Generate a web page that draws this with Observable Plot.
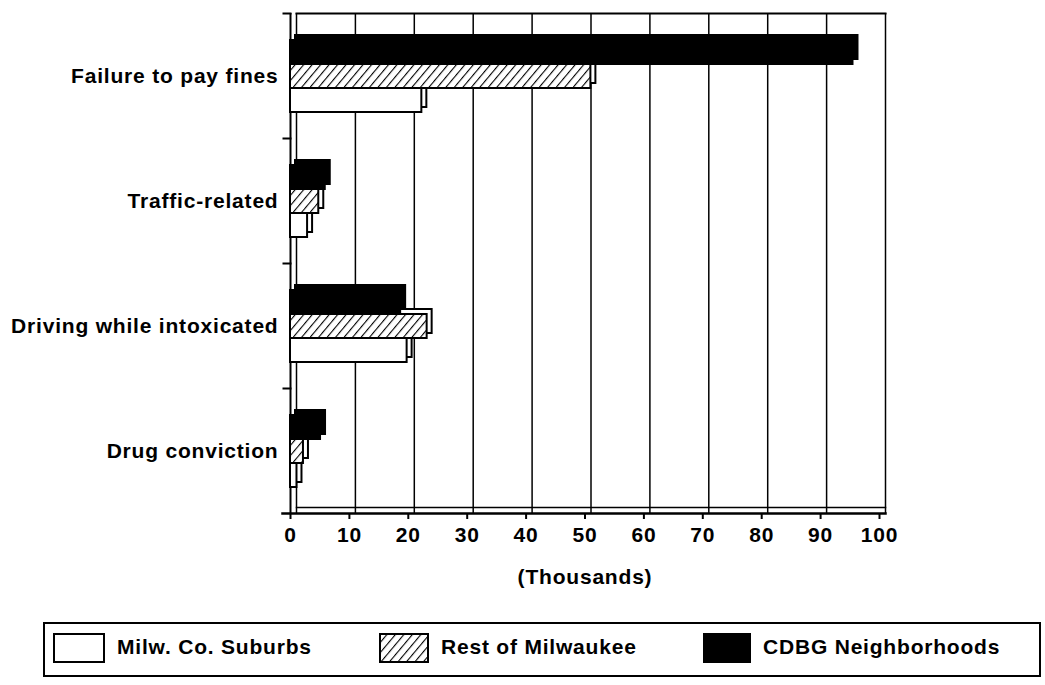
<!DOCTYPE html>
<html>
<head>
<meta charset="utf-8">
<script src="https://cdn.jsdelivr.net/npm/d3@7"></script>
<script src="https://cdn.jsdelivr.net/npm/@observablehq/plot@0.6"></script>
<style>
  html, body { margin: 0; padding: 0; background: white; }
  #chart { position: absolute; left: 0; top: 0; }
  #chart svg text { letter-spacing: 0.8px; font-weight: bold; }
  #legend { position: absolute; left: 43px; top: 622px; width: 994px; height: 51px;
            border: 2px solid black; font-family: 'Liberation Sans', Arial, sans-serif;
            font-size: 21px; font-weight: bold; letter-spacing: 0.8px; color: black; }
  .item { position: absolute; top: 9px; height: 30px; }
  .item svg { position: absolute; left: 0; top: 0; }
  .item span { position: absolute; top: 2px; white-space: nowrap; }
</style>
</head>
<body>
<div id="chart"></div>
<div id="legend"></div>
<script>
// ---- data ----
const categories = ["Failure to pay fines", "Traffic-related", "Driving while intoxicated", "Drug conviction"];
const seriesNames = ["CDBG Neighborhoods", "Rest of Milwaukee", "Milw. Co. Suburbs"];
const cdbgValues = [95.5, 5.9, 18.7, 5.1];
const restValues = [51, 4.8, 23.2, 2.2];
const suburbValues = [22.3, 2.9, 19.8, 1.1];
const xTicks = [0, 10, 20, 30, 40, 50, 60, 70, 80, 90, 100];
const xLabel = "(Thousands)";
const legendOrder = ["Milw. Co. Suburbs", "Rest of Milwaukee", "CDBG Neighborhoods"];

const valueSets = [cdbgValues, restValues, suburbValues];
const rows = [];
categories.forEach((c, i) => {
  seriesNames.forEach((s, j) => rows.push({category: c, series: s, value: valueSets[j][i]}));
});

const chart = Plot.plot({
  width: 1045,
  height: 600,
  marginLeft: 290,
  marginRight: 166,
  marginTop: 12,
  marginBottom: 86,
  style: {fontFamily: "'Liberation Sans', Arial, sans-serif", fontSize: "21px", color: "black", background: "white"},
  x: {domain: [0, 100]},
  fy: {domain: categories, padding: 0},
  y: {domain: seriesNames, paddingInner: 0, paddingOuter: 1.06, axis: null},
  color: {domain: seriesNames, range: ["black", "url(#hatch)", "white"]},
  marks: [
    Plot.gridX({ticks: xTicks, stroke: "black", strokeOpacity: 1, strokeWidth: 1.5, dx: 6}),
    Plot.frame({anchor: "top", facetAnchor: "top", stroke: "black", strokeWidth: 2, dx: 6}),
    // small separator ticks on the left edge of each category band
    Plot.frame({anchor: "top", stroke: "black", strokeWidth: 2, insetLeft: -7, insetRight: 589}),
    Plot.ruleX([0], {stroke: "black", strokeWidth: 2}),
    Plot.frame({anchor: "bottom", facetAnchor: "bottom", stroke: "black", strokeWidth: 1.5, dx: 6, dy: -6}),
    Plot.barX(rows.filter(d => d.series === seriesNames[0]), {fy: "category", y: "series", x: "value", fill: "black", stroke: "black", strokeWidth: 2, dx: 5, dy: -5}),
    Plot.barX(rows.filter(d => d.series !== seriesNames[0]), {fy: "category", y: "series", x: "value", fill: "white", stroke: "black", strokeWidth: 2, dx: 5, dy: -5}),
    Plot.barX(rows, {fy: "category", y: "series", x: "value", fill: "series", stroke: "black", strokeWidth: 2}),
    Plot.frame({anchor: "bottom", facetAnchor: "bottom", stroke: "black", strokeWidth: 2.5, insetLeft: -8, insetRight: -6}),
    Plot.axisX({ticks: xTicks, tickSize: 6, tickPadding: 8, fontSize: 21, strokeWidth: 2,
                label: xLabel, labelAnchor: "center", labelOffset: 70, labelArrow: "none"}),
    Plot.axisFy({anchor: "left", tickSize: 0, tickPadding: 12, fontSize: 21, label: null})
  ]
});

// hatch pattern definition
const ns = "http://www.w3.org/2000/svg";
function addHatch(svg, id) {
  const defs = document.createElementNS(ns, "defs");
  defs.innerHTML = `<pattern id="${id}" patternUnits="userSpaceOnUse" width="6.5" height="6.5" patternTransform="rotate(40)">
      <rect width="6.5" height="6.5" fill="white"></rect>
      <line x1="0" y1="0" x2="0" y2="6.5" stroke="black" stroke-width="2.2"></line>
    </pattern>`;
  svg.insertBefore(defs, svg.firstChild);
}
addHatch(chart, "hatch");
document.getElementById("chart").appendChild(chart);

// legend
const legend = document.getElementById("legend");
const legendX = [8, 334, 658];
const legendSwatchW = [50, 48, 46];
const legendFill = {"Milw. Co. Suburbs": "white", "Rest of Milwaukee": "url(#hatchL)", "CDBG Neighborhoods": "black"};
legendOrder.forEach((name, i) => {
  const item = document.createElement("div");
  item.className = "item";
  item.style.left = legendX[i] + "px";
  const sw = document.createElementNS(ns, "svg");
  sw.setAttribute("width", legendSwatchW[i] + 2);
  sw.setAttribute("height", 30);
  if (i === 1) addHatch(sw, "hatchL");
  const r = document.createElementNS(ns, "rect");
  r.setAttribute("x", 1); r.setAttribute("y", 1);
  r.setAttribute("width", legendSwatchW[i]); r.setAttribute("height", 28);
  r.setAttribute("fill", legendFill[name]); r.setAttribute("stroke", "black"); r.setAttribute("stroke-width", 2);
  sw.appendChild(r);
  item.appendChild(sw);
  const t = document.createElement("span");
  t.textContent = name;
  t.style.left = (legendSwatchW[i] + 14) + "px";
  item.appendChild(t);
  legend.appendChild(item);
});
</script>
</body>
</html>
